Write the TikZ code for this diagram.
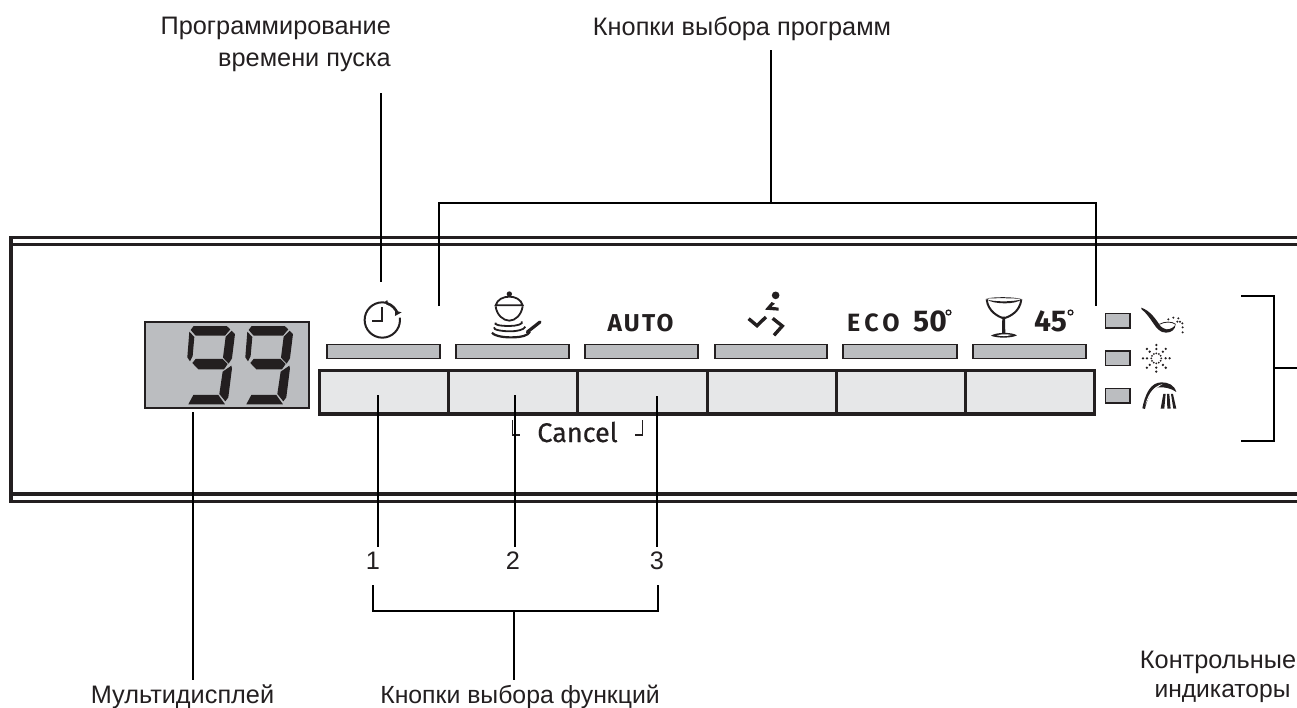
\documentclass[tikz,border=0pt]{standalone}
\usepackage{fontspec}
\setmainfont{Liberation Sans}
\newfontfamily\panelfont{Fira Sans}
\usetikzlibrary{arrows.meta}
\definecolor{ink}{HTML}{231F20}
\definecolor{lcd}{HTML}{BBBDC0}
\definecolor{keyfill}{HTML}{E6E7E8}
\tikzset{
  lab/.style={font=\fontsize{25.3}{32}\selectfont,text=ink,inner sep=0pt,align=center},
  leader/.style={draw=black,line width=1.6pt},
  shell/.style={draw=ink,line width=3.3pt},
  lamp/.style={draw=ink,fill=lcd,line width=1.4pt},
  key/.style={draw=ink,fill=keyfill,line width=3.2pt},
  panelmark/.style={font=\panelfont\bfseries\fontsize{25}{26}\selectfont,text=ink,inner sep=0pt},
  zoomA/.style={shift={(130,270)},x=0.3333pt,y=-0.3333pt},
  zoomB/.style={shift={(450,270)},x=0.3333pt,y=-0.3333pt},
  zoomC/.style={shift={(830,270)},x=0.3333pt,y=-0.3333pt},
}
\begin{document}
\begin{tikzpicture}[x=1pt,y=-1pt]
\useasboundingbox (0,0) rectangle (1297,707);
% shell
\draw[shell] (1297,237.5) -- (11,237.5) -- (11,501.5) -- (1297,501.5);
\draw[shell] (11,244.5) -- (1297,244.5);
\draw[shell] (11,494) -- (1297,494);
% display
\draw[fill=lcd,draw=ink,line width=1.3pt] (145,322) rectangle (309,408);
\foreach \dx in {0,174}{
\begin{scope}[zoomA,xshift=\dx*0.3333pt]
\fill[ink] (191,168)--(290,168)--(301,178)--(285,197)--(197,197)--(182,180)--cycle;
\fill[ink] (178,185)--(193,201)--(188,258)--(180,274)--(172,262)--cycle;
\fill[ink] (305,182)--(315,192)--(306,265)--(296,281)--(279,263)--(287,200)--cycle;
\fill[ink] (187,279)--(197,267)--(278,267)--(293,282)--(282,298)--(205,298)--cycle;
\fill[ink] (304,287)--(306,295)--(295,382)--(286,394)--(268,372)--(278,305)--cycle;
\fill[ink] (190,375)--(265,375)--(285,403)--(175,403)--cycle;
\end{scope}}
% small bars
\foreach \a/\b in {327/440,456/569,585/698,715/827,843/957,973/1086}
  \draw[lamp] (\a,344.5) rectangle (\b,358.5);
% keys
\draw[key] (319.5,370.5) rectangle (1094.5,414);
\foreach \x in {448,577,707,836,965}
  \draw[draw=ink,line width=3pt] (\x,370.5) -- (\x,414);
% lamps
\foreach \y in {313.5,351,388.5}
  \draw[lamp] (1105.5,\y) rectangle (1130,\y+14.5);
% clock
\begin{scope}[zoomA]
\draw[ink,line width=2pt] (757,150) circle[radius=53];
\fill[white] (757,150) -- (770,86) -- (830,86) -- (830,140) -- cycle;
\draw[ink,line width=2pt] (757,112) -- (757,152) -- (726,152);
\draw[ink,line width=2.6pt] (771,100) .. controls (785,104) and (796,115) .. (803,130);
\fill[ink] (772,90)--(762,98)--(775,106)--cycle;
\fill[ink] (795,138)--(815,127)--(796,122)--cycle;
\end{scope}
% pot and pan
\begin{scope}[zoomB]
\fill[ink] (178,72) circle[radius=8];
\draw[ink,line width=1.8pt] (137,106) .. controls (142,88) and (160,80) .. (178,80) .. controls (196,80) and (213,88) .. (218,106) -- cycle;
\draw[ink,line width=1.8pt] (137,109) .. controls (140,135) and (160,152) .. (178,152) .. controls (196,152) and (214,135) .. (218,109);
\draw[ink,line width=1.8pt] (137,158) .. controls (130,164) and (150,168) .. (178,168) .. controls (200,168) and (222,162) .. (215,154);
\draw[ink,line width=1.8pt] (132,172) .. controls (128,180) and (160,184) .. (180,184) .. controls (200,184) and (222,180) .. (226,170);
\draw[ink,line width=2.2pt] (126,188) .. controls (135,200) and (170,203) .. (190,202) .. controls (215,201) and (232,198) .. (240,185);
\draw[ink,line width=3.2pt,line cap=round] (232,186) -- (270,156);
\end{scope}
% runner
\begin{scope}[zoomB]
\fill[ink] (977,76) circle[radius=11.5];
\fill[ink] (945,119)--(965,96)--(975,101)--(964,110)--(986,113)--(986,122)--cycle;
\draw[ink,line width=3.4pt] (896,146)--(921,167)--(948,141);
\draw[ink,line width=3.4pt] (968,145)--(997,168)--(972,196);
\end{scope}
% glass
\begin{scope}[zoomC]
\fill[ink] (468,86) .. controls (490,80) and (550,80) .. (574,87) .. controls (550,84) and (490,84) .. (468,86) -- cycle;
\fill[ink] (470,88) .. controls (490,96) and (550,96) .. (574,88) .. controls (560,104) and (490,104) .. (470,88) -- cycle;
\draw[ink,line width=2pt] (470,88) .. controls (474,125) and (505,140) .. (521,145) .. controls (540,140) and (570,125) .. (574,88);
\fill[ink] (517,140) -- (525,140) -- (526,190) -- (516,190) -- cycle;
\fill[ink] (483,197) .. controls (500,186) and (545,186) .. (561,196) .. controls (545,205) and (500,205) .. (483,197) -- cycle;
\fill[white] (500,196) .. controls (515,192) and (530,192) .. (545,195) .. controls (530,199) and (515,199) .. (500,196) -- cycle;
\end{scope}
% ladle
\begin{scope}[zoomC]
\fill[ink] (934,113) .. controls (960,122) and (975,145) .. (986,160) .. controls (988,165) and (995,175) .. (1010,178) .. controls (1022,178) and (1032,172) .. (1037,163) .. controls (1036,178) and (1025,188) .. (1008,188) .. controls (990,188) and (980,175) .. (970,160) .. controls (960,145) and (950,130) .. (934,117) -- cycle;
\draw[ink,line width=.8pt] (988,163) .. controls (1005,154) and (1025,154) .. (1037,163);
\foreach \p in {(1015,148),(1030,143),(1045,145),(1050,155),(1057,160),(1058,172),(1058,187),(1042,155)}
  \fill[ink] \p circle[radius=3.4];
\end{scope}
% sun
\begin{scope}[zoomC]
\foreach \a in {0,30,...,330}
  \fill[ink] (979,265) ++(\a:15) circle[radius=3];
\foreach \a in {0,45,...,315}{
  \fill[ink] (979,265) ++(\a:28) circle[radius=3.8];
  \fill[ink] (979,265) ++(\a:40) circle[radius=3.8];}
\end{scope}
% faucet
\begin{scope}[zoomC]
\fill[ink] (937,415) .. controls (945,375) and (960,337) .. (995,337) .. controls (1015,337) and (1033,345) .. (1039,366) .. controls (1025,355) and (1000,350) .. (985,352) .. controls (965,360) and (950,390) .. (945,417) -- cycle;
\fill[white] (946,404) .. controls (953,380) and (965,350) .. (998,342) .. controls (980,352) and (958,375) .. (946,404) -- cycle;
\fill[ink] (1000,372)--(1007,372)--(1003,416)--(992,416)--cycle;
\fill[ink] (1011,372)--(1018,372)--(1022,416)--(1012,416)--cycle;
\fill[ink] (1023,372)--(1029,372)--(1039,416)--(1030,416)--cycle;
\end{scope}
% panel text
\node[panelmark,font=\panelfont\bfseries\fontsize{24.4}{26}\selectfont,anchor=base] (auto) at (640.5,331) {\addfontfeature{LetterSpace=9}AUTO};
\node[panelmark,anchor=base west] (eco) at (847,331) {\addfontfeature{LetterSpace=17}ECO};
\node[panelmark,font=\panelfont\bfseries\fontsize{30}{30}\selectfont,anchor=base west] (fifty) at (913,331) {50};
\node[panelmark,font=\panelfont\bfseries\fontsize{30}{30}\selectfont,anchor=base west] (fortyfive) at (1034,331) {45};
\draw[ink,line width=1.3pt] (948.5,312.5) circle[radius=2.4];
\draw[ink,line width=1.3pt] (1070.5,312.5) circle[radius=2.4];
\node[panelmark,font=\panelfont\fontsize{27}{28}\selectfont\addfontfeature{FakeBold=0.5},anchor=base] (cancel) at (577.5,442) {Cancel};
\coordinate (cl1) at (512.5,420);
\coordinate (cl2) at (512.5,435);
\coordinate (cl3) at (520,435);
\coordinate (cr1) at (642.5,420);
\coordinate (cr2) at (642.5,435);
\coordinate (cr3) at (635,435);
\draw[ink,line width=1.2pt] (cl1) -- (cl2) -- (cl3);
\draw[ink,line width=1.2pt] (cr1) -- (cr2) -- (cr3);
% labels
\node[lab,anchor=north east,align=right] (timer) at (391,17) {Программирование\\времени пуска};
\node[lab,anchor=north] (progs) at (742,17) {Кнопки выбора программ};
\node[lab,anchor=base] (multi) at (182.5,703) {Мультидисплей};
\node[lab,font=\fontsize{24.8}{32}\selectfont,anchor=base] (funcs) at (520,703) {Кнопки выбора функций};
\node[lab,anchor=north] (lamps1) at (1218,651) {Контрольные};
\node[lab,font=\fontsize{24.6}{32}\selectfont,anchor=north] (lamps2) at (1222.5,684) {индикаторы};
\node[lab] (n1) at (373,561) {1};
\node[lab] (n2) at (513,561) {2};
\node[lab] (n3) at (657,561) {3};
% leaders
\coordinate (timerA) at (381,93); \coordinate (timerB) at (381,282);
\draw[leader] (timerA) -- (timerB);
\coordinate (progA) at (771,50); \coordinate (progB) at (771,203);
\coordinate (progL) at (439,203); \coordinate (progR) at (1096,203);
\coordinate (progLe) at (439,306); \coordinate (progRe) at (1096,306);
\draw[leader] (progA) -- (progB);
\draw[leader] (progLe) -- (progL) -- (progR) -- (progRe);
\coordinate (dispA) at (193,412); \coordinate (dispB) at (193,680);
\draw[leader] (dispA) -- (dispB);
\foreach \n/\x/\y in {1/378/395,2/515/395,3/657/396}{
  \coordinate (f\n a) at (\x,\y); \coordinate (f\n b) at (\x,547);
  \draw[leader] (f\n a) -- (f\n b);}
\coordinate (brL) at (373,585); \coordinate (brLc) at (373,611);
\coordinate (brR) at (658,585); \coordinate (brRc) at (658,611);
\coordinate (brM) at (514,611); \coordinate (brS) at (514,680);
\draw[leader] (brL) -- (brLc) -- (brRc) -- (brR);
\draw[leader] (brM) -- (brS);
\coordinate (lmpT) at (1241,296); \coordinate (lmpTc) at (1274,296);
\coordinate (lmpB) at (1241,441); \coordinate (lmpBc) at (1274,441);
\coordinate (lmpM) at (1274,368); \coordinate (lmpS) at (1297,368);
\draw[leader] (lmpT) -- (lmpTc) -- (lmpBc) -- (lmpB);
\draw[leader] (lmpM) -- (lmpS);
\end{tikzpicture}
\end{document}
